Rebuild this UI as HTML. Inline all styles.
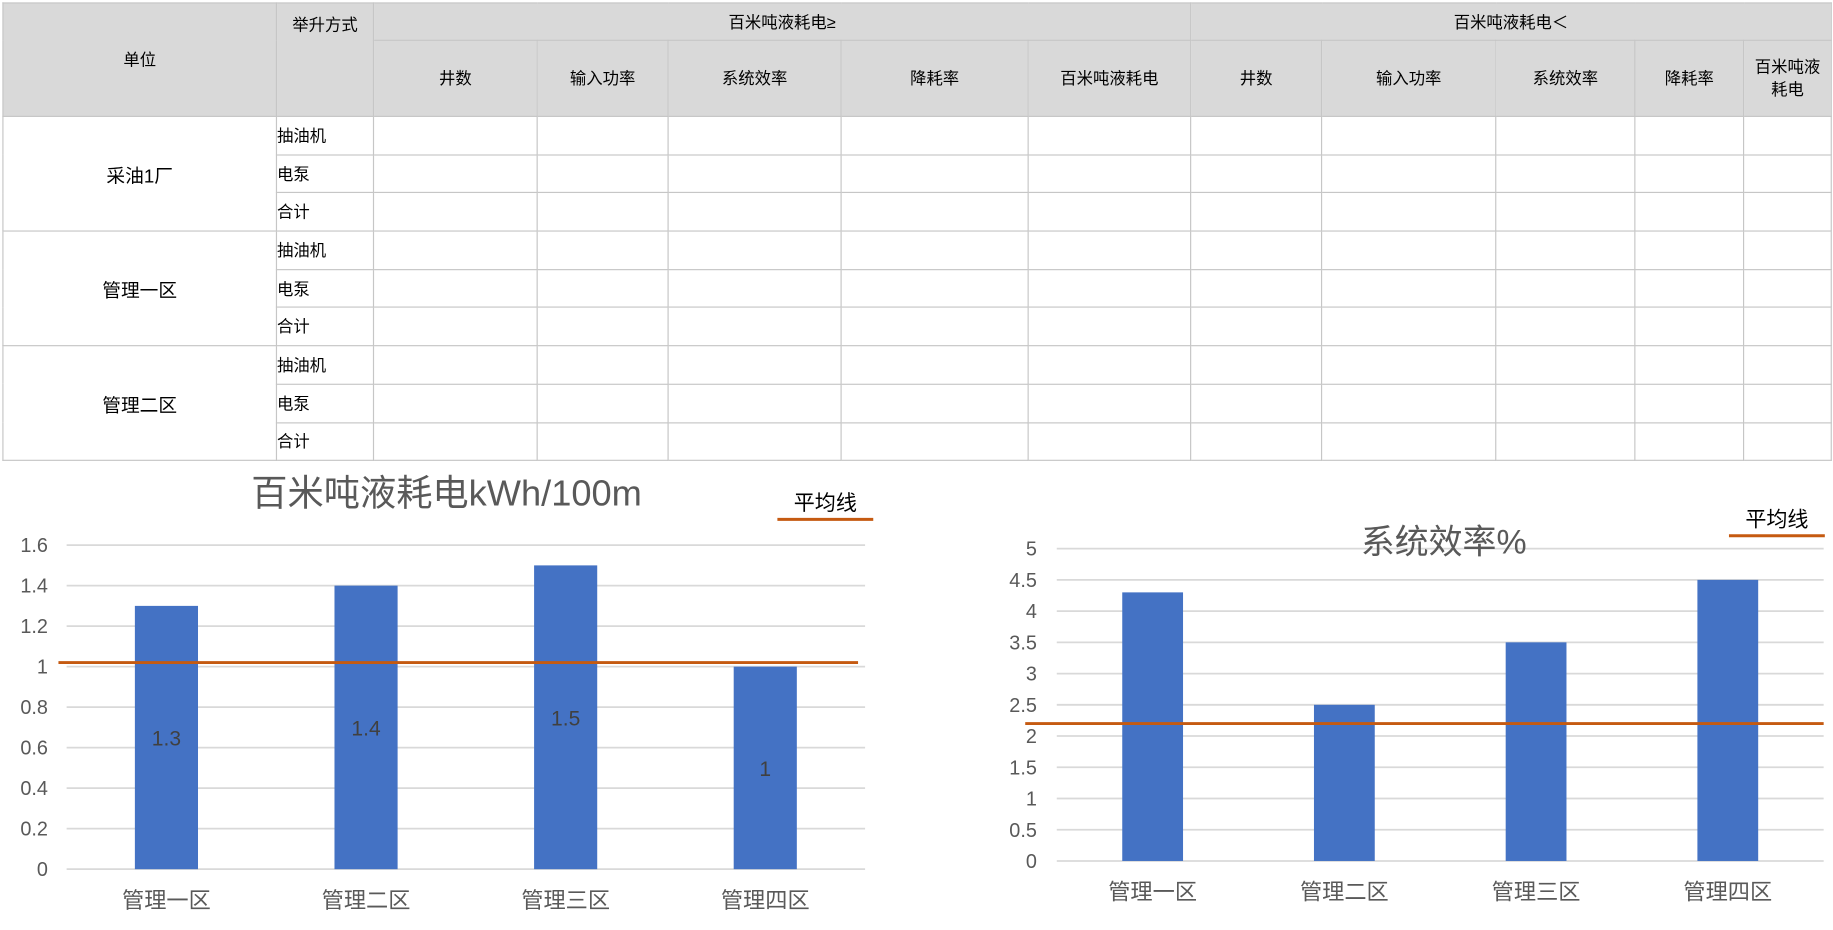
<!DOCTYPE html>
<html><head><meta charset="utf-8">
<style>
html,body{margin:0;padding:0;background:#fff;overflow:hidden;width:1833px;height:930px}
#wrap{position:absolute;left:0;top:0;width:1568px;height:795px;transform:scale(1.16901,1.16981);transform-origin:0 0;font-family:"Liberation Sans","Noto Sans CJK SC",sans-serif}
table{position:absolute;left:2px;top:2px;border-collapse:collapse;table-layout:fixed;width:1564px;font-size:14px;color:#000}
td{border:1.5px solid #c6c6c6;padding:0;text-align:center;vertical-align:middle;overflow:hidden}
.h{background:#d9d9d9}
.m{text-align:left;font-size:14px}
.u{font-size:16px}
svg{position:absolute;left:0;top:393px}
</style></head><body>
<div id="wrap">
<table>
<colgroup><col style="width:234px"><col style="width:83px"><col style="width:140px"><col style="width:112px"><col style="width:148px"><col style="width:160px"><col style="width:139px"><col style="width:112px"><col style="width:149px"><col style="width:119px"><col style="width:93px"><col style="width:75px"></colgroup>
<tr style="height:32px"><td class="h" rowspan="2">单位</td><td class="h" rowspan="2" style="vertical-align:top;padding-top:8px">举升方式</td><td class="h" colspan="5">百米吨液耗电≥</td><td class="h" colspan="5">百米吨液耗电＜</td></tr>
<tr style="height:65px">
<td class="h">井数</td><td class="h">输入功率</td><td class="h">系统效率</td><td class="h">降耗率</td><td class="h">百米吨液耗电</td>
<td class="h">井数</td><td class="h">输入功率</td><td class="h">系统效率</td><td class="h">降耗率</td><td class="h" style="line-height:19px">百米吨液<br>耗电</td></tr>
<tbody id="tb"></tbody>
</table>
<svg id="c" width="1568" height="402"></svg>
</div>
<script>
const units=["采油1厂","管理一区","管理二区"];
const methods=["抽油机","电泵","合计"];
const tb=document.getElementById('tb');
units.forEach(u=>{methods.forEach((m,i)=>{
 const tr=document.createElement('tr');tr.style.height='32.7px';
 let h='';
 if(i===0)h+='<td rowspan="3" class="u">'+u+'</td>';
 h+='<td class="m">'+m+'</td>';
 for(let k=0;k<10;k++)h+='<td></td>';
 tr.innerHTML=h;tb.appendChild(tr);});});

const cats=["管理一区","管理二区","管理三区","管理四区"];
const powerVals=[1.3,1.4,1.5,1];
const powerAvg=1.02;
const powerTicks=[0,0.2,0.4,0.6,0.8,1,1.2,1.4,1.6];
const effVals=[4.3,2.5,3.5,4.5];
const effAvg=2.2;
const effTicks=[0,0.5,1,1.5,2,2.5,3,3.5,4,4.5,5];

const svg=document.getElementById('c');const NS='http://www.w3.org/2000/svg';
function mk(t,a,txt){const e=document.createElementNS(NS,t);for(const k in a)e.setAttribute(k,a[k]);if(txt!==undefined)e.textContent=txt;svg.appendChild(e);return e;}
const OY=393;
function chart(o){
 const y=v=>o.y0-(v-o.min)/(o.max-o.min)*(o.y0-o.y1)-OY;
 const bw=(o.x1-o.x0)/o.cats.length;
 o.ticks.forEach(t=>{
  const g=mk('line',{x1:o.x0,x2:o.x1,y1:y(t),y2:y(t),stroke:'#d9d9d9','stroke-width':1.5});
  
  const l=mk('text',{x:o.lx,y:y(t)+6,'text-anchor':'end','font-size':17,fill:'#595959'},String(t));
  
 });
 o.vals.forEach((v,i)=>{
  const cx=o.x0+bw*(i+0.5);
  const r=mk('rect',{x:cx-o.bar/2,y:y(v),width:o.bar,height:y(o.min)-y(v),fill:'#4472c4'});
  
  if(o.labels){const t=mk('text',{x:cx,y:(y(v)+y(o.min))/2+7,'text-anchor':'middle','font-size':18,fill:'#404040'},String(v));
   }
  const c=mk('text',{x:cx,y:y(o.min)+33,'text-anchor':'middle','font-size':19,fill:'#595959'},o.cats[i]);
  
 });
 const a=mk('line',{x1:o.ax0,x2:o.ax1,y1:y(o.avg),y2:y(o.avg),stroke:'#c55a11','stroke-width':2.5});
 
 const ti=mk('text',{x:o.tx,y:o.ty-OY,'text-anchor':'middle','font-size':o.tfs,fill:'#595959'},o.title);
 
 const lt=mk('text',{x:o.legx,y:o.legy-OY,'text-anchor':'middle','font-size':18,fill:'#000'},'平均线');
 
 const ll=mk('line',{x1:o.legx-41,x2:o.legx+41,y1:o.legy+8-OY,y2:o.legy+8-OY,stroke:'#c55a11','stroke-width':2.5});
 
}
chart({cats,vals:powerVals,avg:powerAvg,ticks:powerTicks,min:0,max:1.6,y0:743,y1:466,x0:57,x1:740,lx:41,bar:54,labels:true,ax0:50,ax1:734,title:'百米吨液耗电kWh/100m',tfs:31,tx:382,ty:432,legx:706,legy:436});
chart({cats,vals:effVals,avg:effAvg,ticks:effTicks,min:0,max:5,y0:736,y1:469,x0:904,x1:1560,lx:887,bar:52,labels:false,ax0:877,ax1:1560,title:'系统效率%',tfs:29,tx:1235,ty:473,legx:1520,legy:450});
</script>
</body></html>
